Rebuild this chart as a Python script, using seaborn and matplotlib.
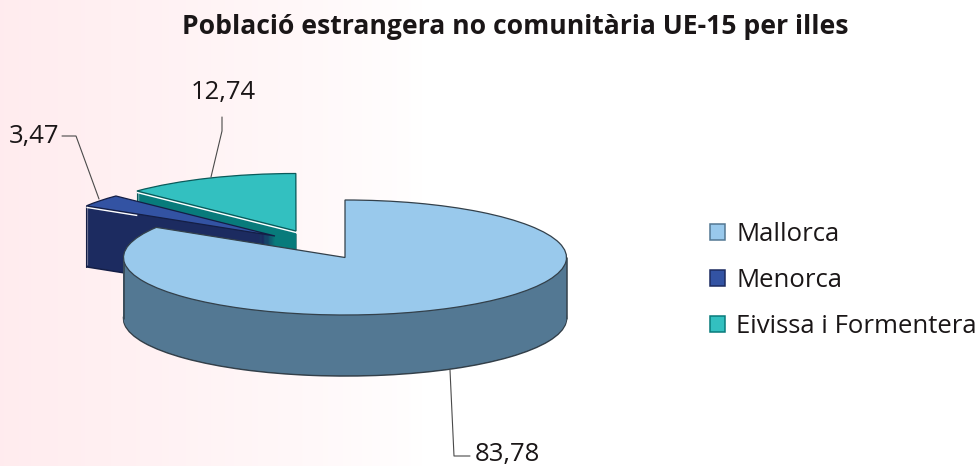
import numpy as np
import matplotlib
matplotlib.use("Agg")
import matplotlib.pyplot as plt
from matplotlib.patches import Patch
import seaborn as sns

#Chart data
islands = ["Mallorca", "Menorca", "Eivissa i Formentera"]
percent = [83.78, 3.47, 12.74]
labels = ["83,78", "3,47", "12,74"]
title = "Població estrangera no comunitària UE-15 per illes"

#Colours for each island
top_colors = ["#99C9EC", "#3353A3", "#33C0C0"]
wall_colors = ["#537893", "#1C2B60", "#087B7B"]
edge_colors = ["#33404A", "#141E45", "#0A5A5A"]

#Pixel layout of the fake 3D pie
W, H = 980, 466
RX, RY = 221.5, 57.5
DEPTH = 61
centers = [(345, 257.5), (275, 236), (296, 231)]
white_part = [0, 0.27, 1]  #how much of the front edge has the white highlight

sns.set_theme(style="white")
plt.rcParams["font.family"] = ["Open Sans", "DejaVu Sans"]

fig = plt.figure(figsize=(W / 100, H / 100), dpi=100, facecolor="white")

#Pale pink wash on the left of the page
bg = fig.add_axes([0, 0, 1, 1])
fade = np.clip(1 - np.linspace(0, 1, W) / 0.43, 0, 1) ** 0.8
wash = np.ones((1, W, 3))
wash[0, :, 1] = 1 - 0.075 * fade
wash[0, :, 2] = 1 - 0.065 * fade
bg.imshow(wash, aspect="auto")
bg.axis("off")

#Pie axes: one unit is RX pixels across and RY pixels up
ax = fig.add_axes([0, 0, 1, 1])
ax.patch.set_visible(False)

def to_units(px, py):
    return px / RX, (H - py) / RY

starts = 90 - 360 * np.cumsum([0] + percent[:-1]) / 100

#Draw back slices first so Mallorca ends up in front
for i in [2, 1, 0]:
    cx, cy = centers[i]
    share = [percent[i] / 100]
    #stack of slices gives the wall
    for d in range(DEPTH, 0, -1):
        props = {"linewidth": 0}
        if d == DEPTH:
            props = {"linewidth": 1.1, "edgecolor": edge_colors[i]}
        ax.pie(share, colors=[wall_colors[i]], radius=1, normalize=False,
               center=to_units(cx, cy + d), startangle=starts[i],
               counterclock=False, wedgeprops=props)
    ux, uy = to_units(cx, cy)
    #vertical wall edge at the left rim point of the slice
    theta = np.radians(starts[i])
    if i == 0:
        for side in [-1, 1]:
            ax.plot([ux + side, ux + side], [uy, uy - DEPTH / RY], color=edge_colors[i], lw=1.1, zorder=1)
    else:
        ax.plot([ux + np.cos(theta)] * 2, [uy + np.sin(theta), uy + np.sin(theta) - DEPTH / RY],
                color=edge_colors[i], lw=0.8, zorder=1)
    ax.pie(share, colors=[top_colors[i]], radius=1, normalize=False,
           center=(ux, uy), startangle=starts[i], counterclock=False,
           wedgeprops={"linewidth": 0.9, "edgecolor": edge_colors[i]})
    #white highlight on the front edge of the small slices
    if i > 0:
        k = 1 - white_part[i]
        ax.plot([ux + k * np.cos(theta), ux + np.cos(theta)],
                [uy + k * np.sin(theta) - 1.5 / RY, uy + np.sin(theta) - 1.5 / RY],
                color="white", lw=1.0, solid_capstyle="butt", zorder=1)

ax.set_aspect("auto")
ax.set_xlim(0, W / RX)
ax.set_ylim(0, H / RY)
ax.axis("off")

#Overlay in pixel coordinates for text, leader lines and legend
over = fig.add_axes([0, 0, 1, 1])
over.patch.set_visible(False)
over.set_xlim(0, W)
over.set_ylim(H, 0)
over.axis("off")

over.text(515.5, 27, title, ha="center", va="center", fontsize=19.1, fontweight="bold", color="#1A1617")

leaders = [([450, 454, 470], [370, 456, 456]),
           ([62, 76, 99], [136, 136, 199]),
           ([222, 222, 211], [117, 131, 177])]
for xs, ys in leaders:
    over.plot(xs, ys, color="#4A4A4A", lw=0.8)

label_pos = [(475, 455), (9, 137), (191, 93)]
for lab, (x, y) in zip(labels, label_pos):
    over.text(x, y, lab, ha="left", va="center", fontsize=18.5, color="#1A1617")

handles = [Patch(facecolor=t, edgecolor=e, linewidth=1.1, label=n)
           for t, e, n in zip(top_colors, wall_colors, islands)]
over.legend(handles=handles, loc="upper left", bbox_to_anchor=(710, 222), bbox_transform=over.transData,
            frameon=False, fontsize=18.5, labelcolor="#1A1617", borderpad=0, borderaxespad=0,
            handlelength=0.6, handleheight=0.6, handletextpad=0.42, labelspacing=0.82)

fig.savefig("out.png", dpi=100)
